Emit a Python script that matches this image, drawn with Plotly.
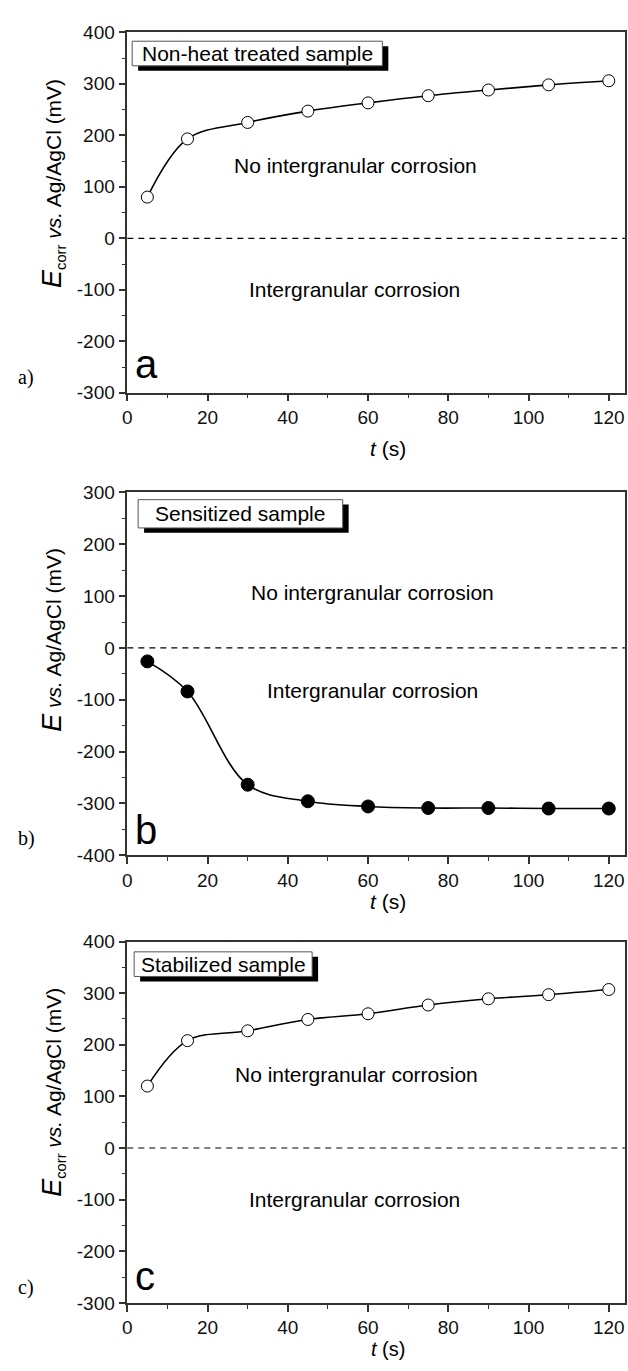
import plotly.graph_objects as go

W, H = 628, 1371

# ---------------- data ----------------
t_s = [5, 15, 30, 45, 60, 75, 90, 105, 120]
e_nonheat = [80, 193, 225, 247, 263, 277, 288, 298, 306]
e_sensitized = [-26, -84, -264, -296, -306, -309, -309, -310, -310]
e_stabilized = [120, 208, 227, 249, 260, 277, 289, 297, 307]

yticks_ac = [-300, -200, -100, 0, 100, 200, 300, 400]
yticks_b = [-400, -300, -200, -100, 0, 100, 200, 300]
xticks = [0, 20, 40, 60, 80, 100, 120]

panel_titles = ["Non-heat treated sample", "Sensitized sample", "Stabilized sample"]
panel_letters = ["a", "b", "c"]
panel_tags = ["a)", "b)", "c)"]
region_upper = "No intergranular corrosion"
region_lower = "Intergranular corrosion"
y_ranges = [[-300, 400], [-400, 300], [-300, 400]]
x_range = [0, 124]

FONT = "Liberation Sans, Arial, sans-serif"
SERIF = "Liberation Serif, Times New Roman, serif"
AX = "#333333"


def px(x):
    return x / W


def py(y):
    return 1 - y / H


# pixel geometry of the three panels (top, bottom)
panels = [(22.7, 388.7), (490.0, 858.3), (946.0, 1313.0)]
x_left, x_right = 123.3, 624.8

fig = go.Figure()

series = [e_nonheat, e_sensitized, e_stabilized]
fills = ["white", "black", "white"]
for i, (ys, fc) in enumerate(zip(series, fills)):
    sfx = "" if i == 0 else str(i + 1)
    fig.add_trace(go.Scatter(
        x=t_s, y=ys, mode="lines+markers",
        line=dict(color="black", width=1.6, shape="spline", smoothing=1.0),
        marker=dict(symbol="circle", size=12 if fc == "white" else 13, color=fc,
                    line=dict(color="black", width=1)),
        xaxis="x" + sfx, yaxis="y" + sfx, showlegend=False, hoverinfo="skip",
    ))

layout = dict(
    width=W, height=H, margin=dict(l=0, r=0, t=0, b=0),
    paper_bgcolor="white", plot_bgcolor="white", showlegend=False,
    font=dict(family=FONT, size=19, color="#111111"),
)

ytick_sets = [yticks_ac, yticks_b, yticks_ac]
for i, (top, bot) in enumerate(panels):
    sfx = "" if i == 0 else str(i + 1)
    yt = ytick_sets[i]
    layout["xaxis" + sfx] = dict(
        domain=[px(x_left), px(x_right)], range=x_range, anchor="y" + sfx,
        tickmode="array", tickvals=xticks, ticktext=[str(v) for v in xticks],
        ticks="outside", ticklen=7, tickwidth=1.5, tickcolor=AX,
        minor=dict(tickmode="linear", tick0=0, dtick=10, ticks="outside", ticklen=4,
                   tickwidth=1.2, tickcolor=AX),
        showline=True, linecolor=AX, linewidth=1.5, mirror=True,
        showgrid=False, zeroline=False,
        tickfont=dict(family=FONT, size=19, color="#111111"),
    )
    layout["yaxis" + sfx] = dict(
        domain=[py(bot), py(top)], range=y_ranges[i], anchor="x" + sfx,
        tickmode="array", tickvals=yt, ticktext=[str(v) for v in yt],
        ticks="outside", ticklen=7, tickwidth=1.5, tickcolor=AX,
        minor=dict(tickmode="linear", tick0=0, dtick=50, ticks="outside", ticklen=4,
                   tickwidth=1.2, tickcolor=AX),
        showline=True, linecolor=AX, linewidth=1.5, mirror=True,
        showgrid=False, zeroline=False,
        tickfont=dict(family=FONT, size=19, color="#111111"),
    )

fig.update_layout(**layout)

shapes = []
annotations = []

# label boxes: (x0, y0, x1, y1) in pixels
boxes = [(128.2, 31.7, 380.4, 56.7), (134.2, 497.3, 340.4, 526.0), (130.2, 956.5, 309.6, 981.5)]
for i, (x0, y0, x1, y1) in enumerate(boxes):
    sfx = "" if i == 0 else str(i + 1)
    # zero line
    shapes.append(dict(type="line", xref="x" + sfx + " domain", yref="y" + sfx,
                       x0=0, x1=1, y0=0, y1=0,
                       line=dict(color="black", width=1.2, dash="6px,5px")))
    # shadow
    shapes.append(dict(type="rect", xref="paper", yref="paper",
                       x0=px(x0 + 6), x1=px(x1 + 6), y0=py(y1 + 5), y1=py(y0 + 5),
                       fillcolor="black", line=dict(width=0)))
    # box
    shapes.append(dict(type="rect", xref="paper", yref="paper",
                       x0=px(x0), x1=px(x1), y0=py(y1), y1=py(y0),
                       fillcolor="white", line=dict(color="#555555", width=1)))
    annotations.append(dict(text=panel_titles[i], xref="paper", yref="paper",
                            x=px((x0 + x1) / 2), y=py((y0 + y1) / 2),
                            xanchor="center", yanchor="middle", showarrow=False,
                            font=dict(family=FONT, size=21, color="black")))

# region texts (data coords)
region_pos = [((56.9, 141), (56.7, -100)), ((61.1, 107), (61.0, -82)), ((57.1, 143), (56.7, -100))]
for i, ((xu, yu), (xl, yl)) in enumerate(region_pos):
    sfx = "" if i == 0 else str(i + 1)
    annotations.append(dict(text=region_upper, xref="x" + sfx, yref="y" + sfx, x=xu, y=yu,
                            showarrow=False, xanchor="center", yanchor="middle",
                            font=dict(family=FONT, size=21, color="black")))
    annotations.append(dict(text=region_lower, xref="x" + sfx, yref="y" + sfx, x=xl, y=yl,
                            showarrow=False, xanchor="center", yanchor="middle",
                            font=dict(family=FONT, size=21, color="black")))

# panel letters (baseline pixel y)
letter_base = [373.3, 846.7, 1300.0]
tag_center = [373.0, 841.7, 1297.0]
for i in range(3):
    annotations.append(dict(text=panel_letters[i], xref="paper", yref="paper",
                            x=px(129), y=py(letter_base[i] - 0.35 * 40),
                            xanchor="left", yanchor="middle", showarrow=False,
                            font=dict(family=FONT, size=40, color="black")))
    annotations.append(dict(text=panel_tags[i], xref="paper", yref="paper",
                            x=px(11), y=py(tag_center[i]),
                            xanchor="left", yanchor="middle", showarrow=False,
                            font=dict(family=SERIF, size=20, color="black")))

# axis titles
xt_y = [445, 905, 1360]
xt_size = [21, 21, 20]
yt_y = [176, 640, 1099]
ytitles = [
    "<i><span style='font-size:27px'>E</span></i><sub>corr</sub> <i>vs.</i> Ag/AgCl (mV)",
    "<i><span style='font-size:27px'>E</span></i> <i>vs.</i> Ag/AgCl (mV)",
    "<i><span style='font-size:27px'>E</span></i><sub>corr</sub> <i>vs.</i> Ag/AgCl (mV)",
]
for i in range(3):
    annotations.append(dict(text="<i>t</i> (s)", xref="paper", yref="paper",
                            x=px(386), y=py(xt_y[i]), xanchor="center", yanchor="middle",
                            showarrow=False, font=dict(family=FONT, size=xt_size[i], color="black")))
    annotations.append(dict(text=ytitles[i], xref="paper", yref="paper",
                            x=px(48), y=py(yt_y[i]), xanchor="center", yanchor="middle",
                            textangle=-90, showarrow=False,
                            font=dict(family=FONT, size=21, color="black")))

fig.update_layout(shapes=shapes, annotations=annotations)
fig.write_html("out.html")
